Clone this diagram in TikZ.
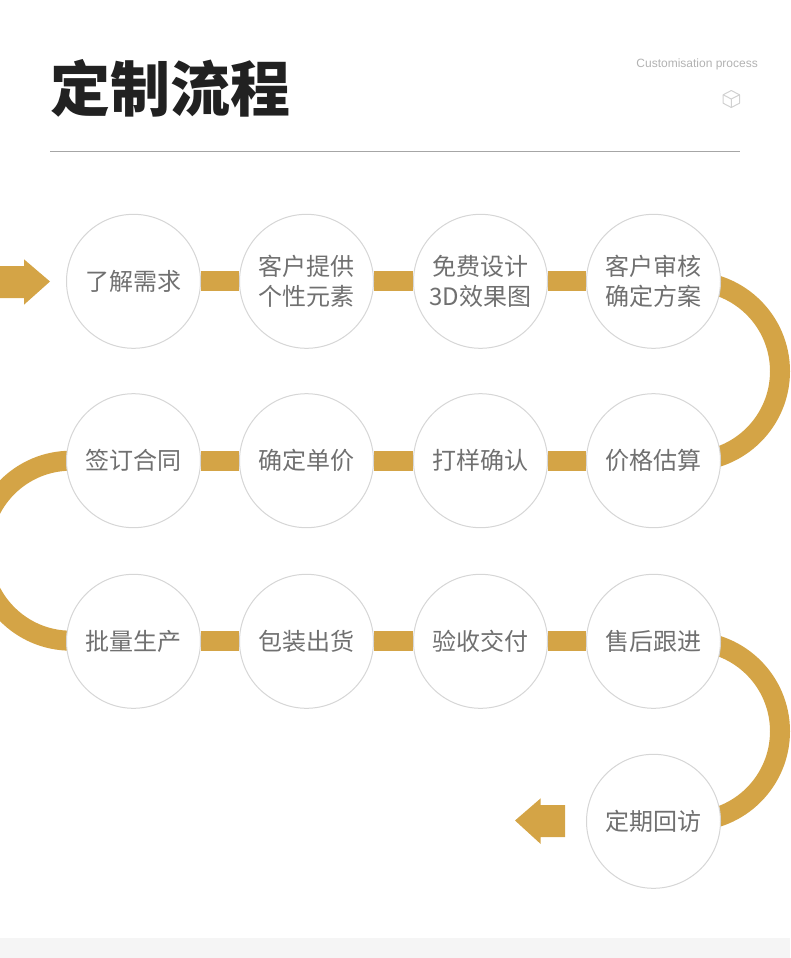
\documentclass[tikz,border=0pt]{standalone}
\usepackage{fontspec}
\setmainfont{Liberation Sans}
\newfontfamily\cjk{Noto Sans CJK SC}
\usetikzlibrary{backgrounds}
\definecolor{gold}{HTML}{D4A446}
\definecolor{stepgray}{HTML}{707070}
\tikzset{
  stepnode/.style={circle,draw=black!16,line width=1pt,fill=white,minimum size=134pt,inner sep=0pt,
    align=center,text=stepgray,font=\cjk\fontsize{24}{30}\selectfont},
  band/.style={draw=gold,line width=20pt},
  cubeline/.style={draw=black!18,line width=1pt,line join=round}
}
\begin{document}
\begin{tikzpicture}[x=1pt,y=-1pt]
    \useasboundingbox (0,0) rectangle (790,958);
    % Title and rule
    \node[anchor=west,inner sep=0pt,text=black!87,font=\cjk\bfseries\fontsize{60}{60}\selectfont] (title) at (50,88) {定制流程};
    \node[anchor=east,inner sep=0pt,text=black!30,font=\fontsize{12}{14}\selectfont] (subtitle) at (758,64.5) {Customisation process};
    \draw[black!35,line width=1pt] (50,151.5) -- (740,151.5);
    % Cube icon
    \draw[cubeline] (731.3,90.5) -- (739.5,94.8) -- (739.5,103.2) -- (731.3,107.5) -- (723.1,103.2) -- (723.1,94.8) -- cycle;
    \draw[cubeline] (723.1,94.8) -- (731.3,99) -- (739.5,94.8) (731.3,99) -- (731.3,107.5);
    % Steps in order of the flow
    \foreach \name/\x/\y/\txt in {
        s1/133.5/281.3/{了解需求},
        s2/306.5/281.3/{客户提供\\个性元素},
        s3/480.5/281.3/{免费设计\\3D效果图},
        s4/653.5/281.3/{客户审核\\确定方案},
        s5/653.5/460.7/{价格估算},
        s6/480.5/460.7/{打样确认},
        s7/306.5/460.7/{确定单价},
        s8/133.5/460.7/{签订合同},
        s9/133.5/641.3/{批量生产},
        s10/306.5/641.3/{包装出货},
        s11/480.5/641.3/{验收交付},
        s12/653.5/641.3/{售后跟进},
        s13/653.5/821.3/{定期回访}}
    \node[stepnode] (\name) at (\x,\y) {\txt};
    % Bands behind the circles
    \begin{scope}[on background layer]
    \fill[black!4] (0,938) rectangle (790,958);
    \foreach \a/\b in {s1/s2,s2/s3,s3/s4,s5/s6,s6/s7,s7/s8,s9/s10,s10/s11,s11/s12}
    \draw[band] (\a) -- (\b);
    \draw[band] (s4.center) -- ++(36.5,0) arc[start angle=90,end angle=-90,radius=90pt] -- (s5.center);
    \draw[band] (s8.center) -- ++(-62.5,0) arc[start angle=90,end angle=270,radius=90pt] -- (s9.center);
    \draw[band] (s12.center) -- ++(36.5,0) arc[start angle=90,end angle=-90,radius=90pt] -- (s13.center);
    \end{scope}
    % Entry and exit arrows
    \fill[gold] (0,266) -- (24,266) -- (24,259.3) -- (50,281.5) -- (24,304.7) -- (24,298) -- (0,298) -- cycle;
    \fill[gold] (565,805) -- (540.7,805) -- (540.7,798.3) -- (515,820.5) -- (540.7,844) -- (540.7,837) -- (565,837) -- cycle;
\end{tikzpicture}
\end{document}
